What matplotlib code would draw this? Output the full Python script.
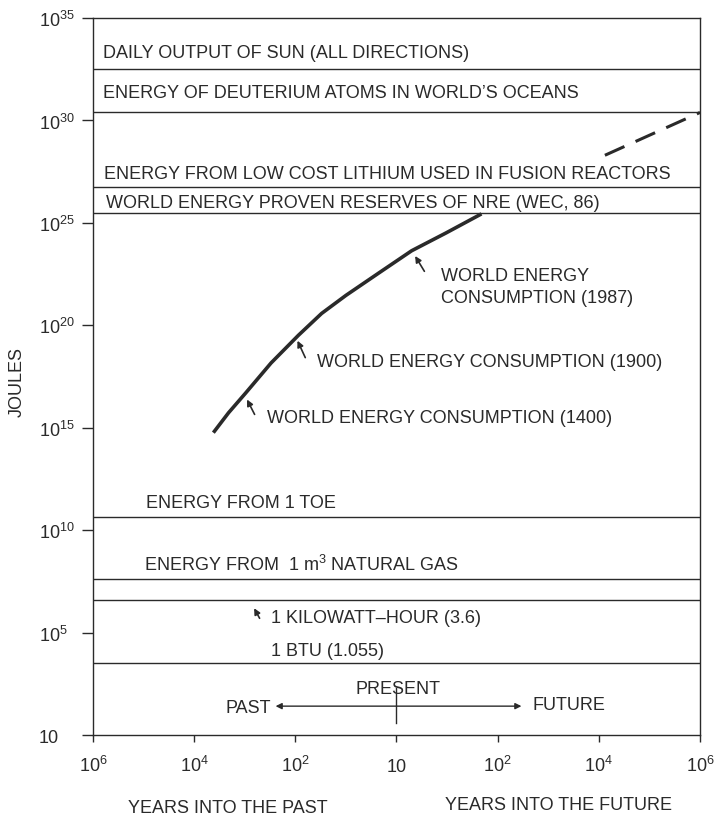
import numpy as np
import matplotlib
matplotlib.use("Agg")
import matplotlib.pyplot as plt

plt.rcParams['font.family'] = ['Liberation Sans', 'DejaVu Sans']
plt.rcParams['mathtext.fontset'] = 'custom'
plt.rcParams['mathtext.rm'] = 'Liberation Sans'

INK = '#2a2a2a'
FS = 13

# x axis: 10^6 years past ... present ... 10^6 years future (one unit per tick)
x_ticks = [-3, -2, -1, 0, 1, 2, 3]
x_labels = [r'$\mathregular{10^6}$', r'$\mathregular{10^4}$', r'$\mathregular{10^2}$', '10',
            r'$\mathregular{10^2}$', r'$\mathregular{10^4}$', r'$\mathregular{10^6}$']

# y axis: exponents of joules
y_tick_exp = [0, 5, 10, 15, 20, 25, 30, 35]
y_labels = ['10'] + [r'$\mathregular{10^{%d}}$' % e for e in y_tick_exp[1:]]

# horizontal reference levels (log10 J) and their labels
level_exp = [32.5, 30.4, 26.75, 25.5, 10.65, 7.6, 6.6, 3.5]
level_text = ['DAILY OUTPUT OF SUN (ALL DIRECTIONS)',
              'ENERGY OF DEUTERIUM ATOMS IN WORLD\u2019S OCEANS',
              'ENERGY FROM LOW COST LITHIUM USED IN FUSION REACTORS',
              'WORLD ENERGY PROVEN RESERVES OF NRE (WEC, 86)',
              'ENERGY FROM 1 TOE',
              r'ENERGY FROM  1 m$\mathregular{^3}$ NATURAL GAS',
              '1 KILOWATT\u2013HOUR (3.6)',
              '1 BTU (1.055)']
text_x = [-2.90, -2.90, -2.89, -2.87, -2.48, -2.50, -1.24, -1.24]
text_exp = [33.3, 31.35, 27.4, 26.0, 11.35, 8.35, 5.75, 4.15]

# world consumption curve
curve_x = [-1.81, -1.66, -1.49, -1.24, -0.97, -0.74, -0.50, -0.17, 0.15, 0.49, 0.84]
curve_exp = [14.76, 15.73, 16.70, 18.16, 19.51, 20.58, 21.46, 22.57, 23.64, 24.51, 25.44]

# projected (dashed)
dash_x = [2.06, 3.0]
dash_exp = [28.30, 30.39]

# annotations: (label, text x, text exp, arrow tail x, tail exp, head x, head exp)
notes = [
    ('WORLD ENERGY\nCONSUMPTION (1987)', 0.44, 21.9, 0.29, 22.52, 0.17, 23.50),
    ('WORLD ENERGY CONSUMPTION (1900)', -0.79, 18.25, -0.89, 18.30, -0.99, 19.37),
    ('WORLD ENERGY CONSUMPTION (1400)', -1.28, 15.5, -1.39, 15.53, -1.49, 16.50),
]
kwh_arrow = (-1.34, 5.58, -1.42, 6.31)

fig = plt.figure(figsize=(7.19, 8.20), dpi=100)
ax = fig.add_axes([0.1293, 0.1024, 0.8443, 0.8744])
ax.set_yscale('log')
ax.set_xlim(-3, 3)
ax.set_ylim(1, 1e35)

for s in ax.spines.values():
    s.set_color(INK)
    s.set_linewidth(1.0)

for e in level_exp:
    ax.axhline(10.0 ** e, color=INK, lw=1.0)

for t, x, e in zip(level_text, text_x, text_exp):
    ax.text(x, 10.0 ** e, t, fontsize=FS, color=INK, va='center', ha='left')

ax.plot(curve_x, 10.0 ** np.array(curve_exp), color=INK, lw=2.6, solid_capstyle='butt')
ax.plot(dash_x, 10.0 ** np.array(dash_exp), color=INK, lw=2.2, dashes=(7, 4))

for label, tx, te, ax0, ae0, ax1, ae1 in notes:
    ax.text(tx, 10.0 ** te, label, fontsize=FS, color=INK, va='center', ha='left',
            linespacing=1.4)
    ax.annotate('', xy=(ax1, 10.0 ** ae1), xytext=(ax0, 10.0 ** ae0),
                arrowprops=dict(arrowstyle='-|>', color=INK, lw=1.2, mutation_scale=9))

ax.annotate('', xy=(kwh_arrow[2], 10.0 ** kwh_arrow[3]), xytext=(kwh_arrow[0], 10.0 ** kwh_arrow[1]),
            arrowprops=dict(arrowstyle='-|>', color=INK, lw=1.2, mutation_scale=9))

# past / present / future arrow
ax.annotate('', xy=(-1.195, 10.0 ** 1.41), xytext=(0, 10.0 ** 1.41),
            arrowprops=dict(arrowstyle='-|>', color=INK, lw=1.0, mutation_scale=9, shrinkA=0, shrinkB=0))
ax.annotate('', xy=(1.235, 10.0 ** 1.41), xytext=(0, 10.0 ** 1.41),
            arrowprops=dict(arrowstyle='-|>', color=INK, lw=1.0, mutation_scale=9, shrinkA=0, shrinkB=0))
ax.plot([0, 0], [10.0 ** 0.58, 10.0 ** 2.3], color=INK, lw=1.0)
ax.text(0.01, 10.0 ** 2.25, 'PRESENT', fontsize=FS, color=INK, ha='center', va='center')
ax.text(-1.24, 10.0 ** 1.32, 'PAST', fontsize=FS, color=INK, ha='right', va='center')
ax.text(1.34, 10.0 ** 1.47, 'FUTURE', fontsize=FS, color=INK, ha='left', va='center')

ax.set_xticks(x_ticks)
ax.set_xticklabels(x_labels)
ax.set_yticks([10.0 ** e for e in y_tick_exp])
ax.set_yticklabels(y_labels)
ax.minorticks_off()
ax.tick_params(axis='x', direction='out', length=5, width=1.0, color=INK, pad=21,
               labelsize=FS, labelcolor=INK)
ax.tick_params(axis='y', direction='out', length=8, width=1.0, color=INK, pad=31,
               labelsize=FS, labelcolor=INK)
for lbl in ax.get_xticklabels():
    lbl.set_va('baseline')
for lbl in ax.get_yticklabels():
    lbl.set_ha('left')

fig.text(0.0236, 0.534, 'JOULES', rotation=90, fontsize=FS, color=INK, ha='center', va='center')
fig.text(0.317, 0.0146, 'YEARS INTO THE PAST', fontsize=FS, color=INK, ha='center', va='center')
fig.text(0.777, 0.018, 'YEARS INTO THE FUTURE', fontsize=FS, color=INK, ha='center', va='center')

fig.savefig('out.png', dpi=100, facecolor='white')
